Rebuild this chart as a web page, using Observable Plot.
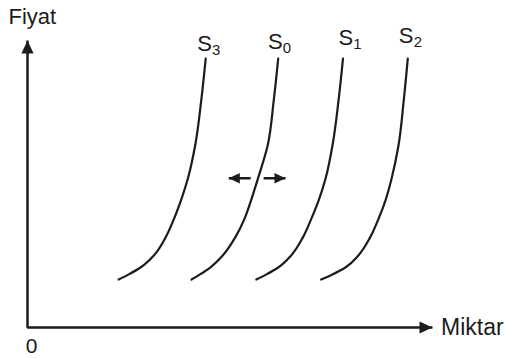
<!DOCTYPE html>
<html>
<head>
<meta charset="utf-8">
<script src="https://cdn.jsdelivr.net/npm/d3@7"></script>
<script src="https://cdn.jsdelivr.net/npm/@observablehq/plot@0.6"></script>
<style>
  body { margin: 0; background: #fff; }
</style>
</head>
<body>
<div id="chart"></div>
<script>
// Price levels (Fiyat) at which each supply curve is sampled (low to high)
const price = [16.7, 18.5, 20.9, 25.1, 31.4, 38.3, 44.3, 51.9, 63.4, 79.1, 93.7];
// Quantity (Miktar) of each supply curve at those prices
const qtyS3 = [22.5, 25.0, 27.9, 31.2, 34.1, 36.3, 37.9, 39.6, 41.4, 42.9, 44.0];
const qtyS0 = [40.5, 42.6, 45.1, 48.2, 51.3, 53.7, 55.2, 56.9, 59.3, 60.8, 61.9];
const qtyS1 = [56.5, 59.0, 61.9, 65.1, 68.0, 70.2, 71.9, 73.6, 75.3, 76.8, 77.9];
const qtyS2 = [72.5, 75.3, 78.5, 81.7, 84.6, 86.8, 88.4, 89.9, 91.6, 92.9, 93.9];

const curveNames = ["S3", "S0", "S1", "S2"];
const curveQty = [qtyS3, qtyS0, qtyS1, qtyS2];

// Curve labels: main letter, subscript, anchor position
const labelMain = ["S", "S", "S", "S"];
const labelSub = ["3", "0", "1", "2"];
const labelX = [43.7, 61.2, 78.6, 93.5];
const labelY = [96.5, 96.9, 98.6, 99.0];

// Shift arrows around S0
const shiftFromX = [55.1, 58.3];
const shiftToX = [49.7, 63.7];
const shiftY = 52.0;

// Axis titles
const axisTitleX = "Miktar";
const axisTitleY = "Fiyat";
const originLabel = "0";

const ink = "#1d1b1b";

const curveData = curveNames.flatMap((name, k) =>
  price.map((p, i) => ({curve: name, q: curveQty[k][i], p}))
);
const labels = labelMain.map((m, i) => ({main: m, sub: labelSub[i], x: labelX[i], y: labelY[i]}));
const shifts = shiftFromX.map((x1, i) => ({x1, x2: shiftToX[i], y: shiftY}));

const arrowHead = {
  draw(ctx, size) {
    const l = Math.sqrt(size / Math.PI), w = 0.47 * l;
    ctx.moveTo(0, 0);
    ctx.lineTo(w, l);
    ctx.lineTo(-w, l);
    ctx.closePath();
  }
};

const chart = Plot.plot({
  width: 505,
  height: 358,
  marginLeft: 27,
  marginRight: 73,
  marginTop: 40,
  marginBottom: 31,
  x: {domain: [0, 100], axis: null},
  y: {domain: [0, 100], axis: null},
  style: {fontFamily: "'Liberation Sans', Arial, sans-serif", background: "#fff", color: ink, overflow: "visible"},
  marks: [
    // axes
    Plot.line([[0, 100], [0, 0], [100, 0]], {x: d => d[0], y: d => d[1], stroke: ink, strokeWidth: 2.5, strokeLinejoin: "miter", strokeLinecap: "butt"}),
    Plot.dot([[0, 100]], {x: d => d[0], y: d => d[1], r: 13, symbol: arrowHead, fill: ink, stroke: "none", rotate: 0}),
    Plot.dot([[100, 0]], {x: d => d[0], y: d => d[1], r: 13, symbol: arrowHead, fill: ink, stroke: "none", rotate: 90}),
    // supply curves
    Plot.line(curveData, {x: "q", y: "p", z: "curve", curve: "monotone-y", stroke: ink, strokeWidth: 2.2}),
    // shift arrows
    Plot.link(shifts, {x1: "x1", x2: "x2", y1: "y", y2: "y", stroke: ink, strokeWidth: 2.5}),
    Plot.dot(shifts, {x: "x2", y: "y", r: 11, symbol: arrowHead, fill: ink, stroke: "none", rotate: d => d.x2 < d.x1 ? -90 : 90}),
    // curve labels
    Plot.text(labels, {x: "x", y: "y", text: "main", textAnchor: "middle", lineAnchor: "bottom", fontSize: 22, fill: ink}),
    Plot.text(labels, {x: "x", y: "y", text: "sub", textAnchor: "start", lineAnchor: "bottom", dx: 7.5, dy: 4, fontSize: 15, fill: ink}),
    // axis titles
    Plot.text([axisTitleY], {x: 0, y: 100, text: d => d, textAnchor: "start", lineAnchor: "bottom", dx: -19, dy: -17, fontSize: 22, fill: ink}),
    Plot.text([axisTitleX], {x: 100, y: 0, text: d => d, textAnchor: "start", lineAnchor: "middle", dx: 8.5, fontSize: 23, fill: ink}),
    Plot.text([originLabel], {x: 0, y: 0, text: d => d, textAnchor: "middle", lineAnchor: "bottom", dx: 4, dy: 25, fontSize: 21, fill: ink})
  ]
});

document.getElementById("chart").appendChild(chart);
</script>
</body>
</html>
